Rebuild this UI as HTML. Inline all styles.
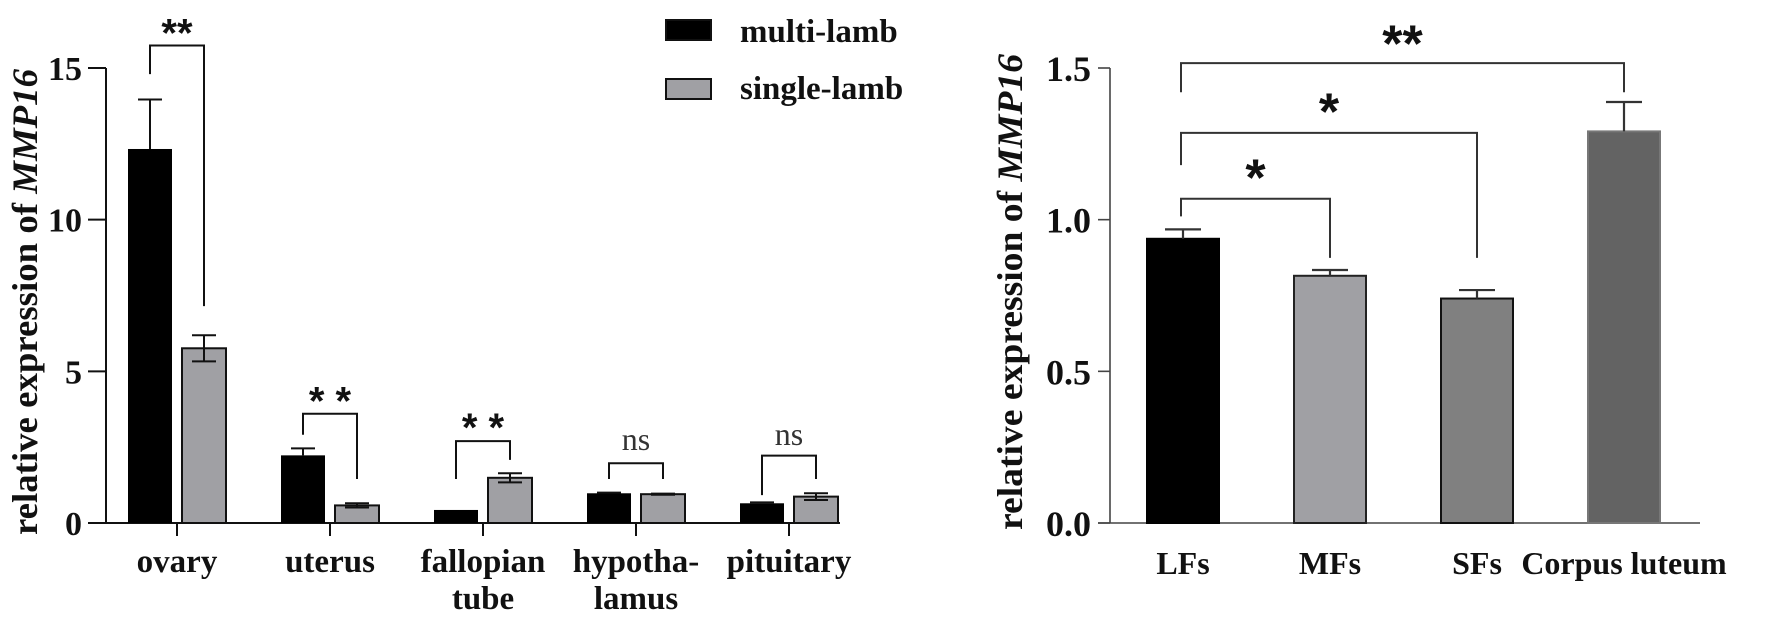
<!DOCTYPE html>
<html><head><meta charset="utf-8"><style>
html,body{margin:0;padding:0;background:#fff;}
svg{display:block;}
</style></head><body>
<svg id="chart" width="1772" height="617" viewBox="0 0 1772 617" xmlns="http://www.w3.org/2000/svg"></svg>
<script>
// ---- Left chart data ----
const tissues = [["ovary"],["uterus"],["fallopian","tube"],["hypotha-","lamus"],["pituitary"]];
const multiVals = [12.33, 2.23, 0.43, 0.98, 0.65];
const multiErr  = [1.63, 0.23, 0.0, 0.02, 0.03];
const singleVals = [5.76, 0.58, 1.49, 0.95, 0.87];
const singleErr  = [0.43, 0.07, 0.15, 0.02, 0.11];
const leftTicks = [0, 5, 10, 15];
const leftSig = ["**", "* *", "* *", "ns", "ns"];
const leftBracketTop = [15.74, 3.6, 2.70, 1.97, 2.22];
const leftLegA = [14.8, 2.91, 1.45, 1.45, 0.92];
const leftLegB = [7.15, 1.45, 2.08, 1.45, 1.45];
const leftSigY = [16.5, 4.37, 3.5, 2.74, 2.9];
// ---- Right chart data ----
const follicles = ["LFs", "MFs", "SFs", "Corpus luteum"];
const follVals = [0.937, 0.815, 0.740, 1.291];
const follErr  = [0.031, 0.019, 0.028, 0.097];
const rightTicks = ["0.0", "0.5", "1.0", "1.5"];
const rightTickVals = [0, 0.5, 1.0, 1.5];
const rightComp = [1, 2, 3];
const rightBracketTop = [1.069, 1.286, 1.516];
const rightLegA = [1.011, 1.18, 1.42];
const rightLegB = [0.874, 0.874, 1.42];
const rightSig = ["*", "*", "**"];
const rightSigY = [1.179, 1.396, 1.62];

const NS = "http://www.w3.org/2000/svg";
const svg = document.getElementById("chart");
function mk(tag, attrs, parent) {
  const e = document.createElementNS(NS, tag);
  for (const k in attrs) e.setAttribute(k, attrs[k]);
  (parent || svg).appendChild(e);
  return e;
}
const Y0 = 523, YT = 68;
const lx0 = 106, lxEnd = 840, lStep = 153, lFirst = 177;
const ly = v => Y0 - v / 15 * (Y0 - YT);
const lcx = i => lFirst + i * lStep;
const rx0 = 1110, rxEnd = 1700, rStep = 147, rFirst = 1183;
const ry = v => Y0 - v / 1.5 * (Y0 - YT);
const rcx = i => rFirst + i * rStep;

// ===== LEFT CHART =====
const gL = mk("g", {});


let ax = mk("line", {x1: lx0, y1: YT, x2: lx0, y2: Y0, stroke: "#111", "stroke-width": 2}, gL);


ax = mk("line", {x1: lx0 - 18, y1: Y0, x2: lxEnd, y2: Y0, stroke: "#111", "stroke-width": 2}, gL);


leftTicks.forEach(t => {
  const y = ly(t);
  const tk = mk("line", {x1: lx0 - 18, y1: y, x2: lx0, y2: y, stroke: "#111", "stroke-width": 2}, gL);
  
  
  const tl = mk("text", {x: 82, y: y + 12, "text-anchor": "end", "font-family": "Liberation Serif, serif", "font-weight": "bold", "font-size": 34, fill: "#111"}, gL);
  tl.textContent = t;
  
  
});
const lt = mk("text", {transform: "translate(37,302) rotate(-90)", "text-anchor": "middle", "font-family": "Liberation Serif, serif", "font-weight": "bold", "font-size": 36, fill: "#111", textLength: 466, lengthAdjust: "spacingAndGlyphs"}, gL);
lt.innerHTML = 'relative expression of <tspan font-style="italic">MMP16</tspan>';



tissues.forEach((lab, i) => {
  const c = lcx(i);
  const tk = mk("line", {x1: c, y1: Y0, x2: c, y2: Y0 + 13, stroke: "#111", "stroke-width": 2}, gL);
  
  
  lab.forEach((ln, j) => {
    const t = mk("text", {x: c, y: 572 + j * 37, "text-anchor": "middle", "font-family": "Liberation Serif, serif", "font-weight": "bold", "font-size": 33, fill: "#111"}, gL);
    t.textContent = ln;
    
    
  });
  const bw = 44;
  const bx1 = c - 27, bx2 = c + 27;
  let b = mk("rect", {x: bx1 - bw/2, y: ly(multiVals[i]), width: bw, height: Y0 - ly(multiVals[i]), fill: "#000"}, gL);
  
  
  if (multiErr[i] > 0) {
    const e = mk("path", {d: `M${bx1},${ly(multiVals[i])}V${ly(multiVals[i]+multiErr[i])}M${bx1-12},${ly(multiVals[i]+multiErr[i])}H${bx1+12}`, stroke: "#111", "stroke-width": 2, fill: "none"}, gL);
    
    
  }
  b = mk("rect", {x: bx2 - bw/2, y: ly(singleVals[i]), width: bw, height: Y0 - ly(singleVals[i]), fill: "#a0a0a4", stroke: "#111", "stroke-width": 2}, gL);
  
  
  const hi = ly(singleVals[i] + singleErr[i]), lo = ly(singleVals[i] - singleErr[i]);
  const e2 = mk("path", {d: `M${bx2},${lo}V${hi}M${bx2-12},${hi}H${bx2+12}M${bx2-12},${lo}H${bx2+12}`, stroke: "#111", "stroke-width": 2, fill: "none"}, gL);
  
  
  const by = ly(leftBracketTop[i]);
  const br = mk("path", {d: `M${bx1},${ly(leftLegA[i])}V${by}H${bx2}V${ly(leftLegB[i])}`, stroke: "#111", "stroke-width": 2, fill: "none"}, gL);
  
  
  const isNs = leftSig[i] === "ns";
  const st = mk("text", {x: c, y: ly(leftSigY[i]) + (isNs ? 10 : 24), "text-anchor": "middle", "font-family": isNs ? "Liberation Serif, serif" : "Liberation Sans, sans-serif", "font-weight": isNs ? "normal" : "bold", "font-size": isNs ? 32 : 40, fill: isNs ? "#333" : "#111"}, gL);
  st.textContent = leftSig[i];
  
  
});
const lg = mk("g", {}, gL);


[["multi-lamb", "#000", 20, 42], ["single-lamb", "#a0a0a4", 79, 99]].forEach(d => {
  const r = mk("rect", {x: 666, y: d[2], width: 45, height: 20, fill: d[1], stroke: "#111", "stroke-width": 2}, lg);
  
  
  const t = mk("text", {x: 740, y: d[3], "font-family": "Liberation Serif, serif", "font-weight": "bold", "font-size": 33, fill: "#111"}, lg);
  t.textContent = d[0];
  
  
});

// ===== RIGHT CHART =====
const gR = mk("g", {});


ax = mk("line", {x1: rx0, y1: YT, x2: rx0, y2: Y0, stroke: "#444", "stroke-width": 1.6}, gR);


ax = mk("line", {x1: rx0 - 12, y1: Y0, x2: rxEnd, y2: Y0, stroke: "#444", "stroke-width": 1.6}, gR);


rightTickVals.forEach((v, i) => {
  const y = ry(v);
  const tk = mk("line", {x1: rx0 - 12, y1: y, x2: rx0, y2: y, stroke: "#444", "stroke-width": 1.6}, gR);
  
  
  const tl = mk("text", {x: 1091, y: y + 13, "text-anchor": "end", "font-family": "Liberation Serif, serif", "font-weight": "bold", "font-size": 36, fill: "#111"}, gR);
  tl.textContent = rightTicks[i];
  
  
});
const rt = mk("text", {transform: "translate(1022,292) rotate(-90)", "text-anchor": "middle", "font-family": "Liberation Serif, serif", "font-weight": "bold", "font-size": 36, fill: "#111", textLength: 476, lengthAdjust: "spacingAndGlyphs"}, gR);
rt.innerHTML = 'relative expression of <tspan font-style="italic">MMP16</tspan>';


const fills = ["#000", "#a0a0a4", "#808080", "#636363"];
const strokes = ["#000", "#222", "#111", "#777"];
follicles.forEach((lab, i) => {
  const c = rcx(i), bw = 72;
  const b = mk("rect", {x: c - bw/2, y: ry(follVals[i]), width: bw, height: Y0 - ry(follVals[i]), fill: fills[i], stroke: strokes[i], "stroke-width": 2}, gR);
  
  
  const hi = ry(follVals[i] + follErr[i]);
  const e = mk("path", {d: `M${c},${ry(follVals[i])}V${hi}M${c-18},${hi}H${c+18}`, stroke: "#333", "stroke-width": 2.2, fill: "none"}, gR);
  
  
  const t = mk("text", {x: c, y: 574, "text-anchor": "middle", "font-family": "Liberation Serif, serif", "font-weight": "bold", "font-size": 32, fill: "#111"}, gR);
  t.textContent = lab;
  
  
});
rightComp.forEach((j, k) => {
  const a = rcx(0) - 2, b = rcx(j);
  const by = ry(rightBracketTop[k]);
  const br = mk("path", {d: `M${a},${ry(rightLegA[k])}V${by}H${b}V${ry(rightLegB[k])}`, stroke: "#333", "stroke-width": 2, fill: "none"}, gR);
  
  
  const st = mk("text", {x: (a + b) / 2, y: ry(rightSigY[k]) + 30, "text-anchor": "middle", "font-family": "Liberation Sans, sans-serif", "font-weight": "bold", "font-size": 52, fill: "#111"}, gR);
  st.textContent = rightSig[k];
  
  
});
</script>
</body></html>
